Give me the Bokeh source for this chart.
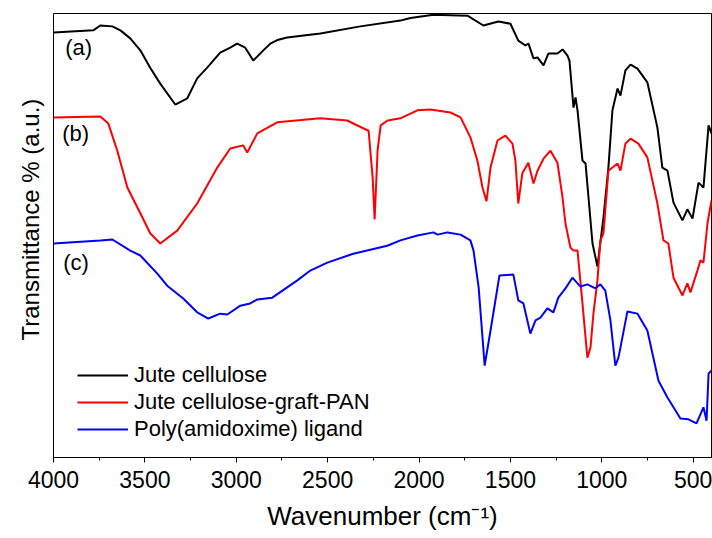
from bokeh.plotting import figure
from bokeh.models import Range1d, FixedTicker, Label, Legend, LegendItem, Title
from bokeh.embed import file_html
from bokeh.resources import INLINE

# ---- data (wavenumber in cm-1, transmittance in arbitrary units) ----
jute_wn = [4000, 3782, 3744, 3678, 3634, 3580, 3525, 3471, 3416, 3334, 3268, 3214, 3159, 3088,
           3033, 2995, 2951, 2907, 2852, 2814, 2770, 2722, 2540, 2321, 2102, 2047, 1921, 1735,
           1648, 1566, 1500, 1457, 1418, 1401, 1374, 1352, 1319, 1292, 1243, 1215, 1188, 1177,
           1155, 1144, 1133, 1106, 1089, 1051, 1024, 991, 964, 942, 914, 898, 871, 843, 805,
           751, 696, 669, 641, 608, 559, 532, 504, 471, 444, 416, 400]
jute_t = [95.7, 96.2, 97.3, 97.1, 96.2, 94.4, 91.7, 87.8, 84.2, 79.5, 80.9, 85.4, 87.8, 91.2,
          92.3, 93.2, 92.3, 89.4, 91.7, 93.2, 94.1, 94.6, 95.5, 97.1, 98.4, 99.0, 99.7, 99.5,
          97.3, 98.2, 97.7, 93.9, 92.8, 93.2, 89.9, 90.1, 88.3, 91.0, 91.0, 91.9, 90.5, 89.4,
          78.8, 81.1, 78.2, 66.9, 66.2, 48.2, 43.0, 54.1, 65.3, 78.2, 83.1, 81.5, 87.2, 88.5, 87.6,
          84.5, 74.3, 65.3, 64.6, 57.4, 53.4, 55.9, 53.8, 61.9, 60.8, 74.8, 73.0]

pan_wn = [4000, 3744, 3700, 3651, 3596, 3525, 3471, 3416, 3323, 3214, 3104, 3033, 2962, 2940,
          2885, 2776, 2540, 2393, 2303, 2276, 2254, 2243, 2227, 2210, 2172, 2102, 2009, 1938,
          1828, 1773, 1719, 1681, 1653, 1631, 1609, 1571, 1528, 1489, 1473, 1457, 1435, 1402,
          1374, 1352, 1319, 1281, 1243, 1215, 1199, 1172, 1155, 1133, 1106, 1079, 1062, 1046,
          1024, 1008, 991, 964, 942, 914, 898, 871, 843, 800, 751, 696, 663, 636, 608, 559,
          532, 515, 477, 460, 444, 422, 400]
pan_t = [76.6, 76.8, 75.2, 69.1, 60.8, 55.0, 50.5, 48.2, 51.1, 57.2, 65.3, 69.6, 70.3, 68.7,
         73.0, 75.5, 76.4, 75.9, 74.1, 73.6, 63.1, 53.6, 69.1, 74.8, 75.9, 76.4, 78.2, 78.4,
         77.7, 76.6, 72.1, 66.9, 60.8, 57.7, 65.3, 71.4, 72.5, 70.7, 66.9, 57.2, 64.0, 66.4,
         61.7, 64.6, 67.3, 69.1, 66.4, 58.6, 52.7, 47.3, 46.6, 46.6, 34.7, 22.5, 24.8, 32.4,
         39.9, 48.9, 50.5, 64.6, 65.3, 66.2, 64.6, 70.7, 71.8, 70.7, 67.6, 57.2, 48.9, 48.2, 40.5, 36.5,
         39.2, 37.2, 42.1, 44.4, 43.9, 52.7, 57.9]

pao_wn = [4000, 3744, 3678, 3580, 3525, 3432, 3378, 3290, 3214, 3153, 3088, 3049, 2978, 2924,
          2885, 2803, 2666, 2595, 2502, 2360, 2174, 2102, 2009, 1921, 1899, 1845, 1773, 1719,
          1702, 1674, 1641, 1609, 1560, 1484, 1457, 1429, 1391, 1363, 1336, 1298, 1265, 1238,
          1199, 1161, 1117, 1079, 1035, 1008, 981, 953, 926, 909, 860, 805, 751, 690, 641, 608,
          570, 526, 482, 444, 427, 416, 400]
pao_t = [48.2, 48.9, 49.1, 46.6, 45.5, 41.4, 38.7, 35.8, 32.7, 31.3, 32.4, 32.2, 34.2, 34.7,
         35.6, 36.0, 39.9, 42.1, 43.9, 45.9, 47.7, 48.9, 50.0, 50.7, 50.2, 50.7, 50.2, 48.9,
         46.6, 38.3, 20.7, 28.6, 41.0, 41.2, 35.4, 34.7, 27.9, 30.9, 31.5, 33.6, 32.7, 36.0,
         38.1, 40.5, 38.5, 39.0, 38.1, 39.0, 37.6, 30.9, 20.7, 22.5, 32.9, 32.4, 28.6, 17.3, 13.5, 11.3,
         8.8, 8.6, 7.7, 11.3, 8.3, 18.9, 19.6]

series_names = ["Jute cellulose", "Jute cellulose-graft-PAN", "Poly(amidoxime) ligand"]
series_colors = ["#000000", "#ff0000", "#0000ff"]
curve_tags = ["(a)", "(b)", "(c)"]
tag_pos = [(3936, 92.3), (3952, 73.0), (3947, 43.9)]
major_ticks = [4000, 3500, 3000, 2500, 2000, 1500, 1000, 500]
minor_ticks = [3750, 3250, 2750, 2250, 1750, 1250, 750]
x_title = "Wavenumber (cm\u207b\u00b9)"
y_title = "Transmittance % (a.u.)"

FONT = "Liberation Sans"

p = figure(width=712, height=538, output_backend="svg", toolbar_location=None,
           x_range=Range1d(4000, 400), y_range=Range1d(0, 100),
           min_border_left=53, min_border_right=1, min_border_top=13, min_border_bottom=81)
p.background_fill_color = "white"
p.border_fill_color = "white"
p.outline_line_color = "black"
p.outline_line_width = 1
p.xgrid.visible = False
p.ygrid.visible = False
p.yaxis.visible = False

xa = p.xaxis[0]
xa.ticker = FixedTicker(ticks=major_ticks, minor_ticks=minor_ticks)
xa.major_tick_in = 0
xa.major_tick_out = 5
xa.minor_tick_in = 0
xa.minor_tick_out = 3
xa.axis_line_color = "black"
xa.major_tick_line_color = "black"
xa.minor_tick_line_color = "black"
xa.major_label_text_font = FONT
xa.major_label_text_font_size = "23px"
xa.major_label_text_color = "black"
xa.major_label_standoff = 8

renderers = []
for wn, t, c in zip([jute_wn, pan_wn, pao_wn], [jute_t, pan_t, pao_t], series_colors):
    r = p.line(wn, t, line_color=c, line_width=2)
    renderers.append(r)

legend = Legend(items=[LegendItem(label=n, renderers=[r]) for n, r in zip(series_names, renderers)],
                location=(24, 15), orientation="vertical")
legend.background_fill_alpha = 0
legend.border_line_alpha = 0
legend.padding = 0
legend.margin = 0
legend.spacing = 1
legend.glyph_width = 51
legend.glyph_height = 26
legend.label_height = 26
legend.label_standoff = 6
legend.label_text_font = FONT
legend.label_text_font_size = "22px"
legend.label_text_color = "black"
p.add_layout(legend, "center")

for tag, (tx, ty) in zip(curve_tags, tag_pos):
    p.add_layout(Label(x=tx, y=ty, text=tag, text_font=FONT, text_font_size="22px",
                       text_color="black", text_baseline="middle", text_align="left"))

# axis titles as side-panel titles
xt = Title(text=x_title, align="center", text_font=FONT, text_font_size="26px",
           text_font_style="normal", text_color="black", standoff=16)
p.add_layout(xt, "below")
yt = Title(text=y_title, align="left", offset=117, text_font=FONT, text_font_size="24px",
           text_font_style="normal", text_color="black", standoff=20)
p.add_layout(yt, "left")

open("out.html", "w").write(file_html(p, INLINE))
